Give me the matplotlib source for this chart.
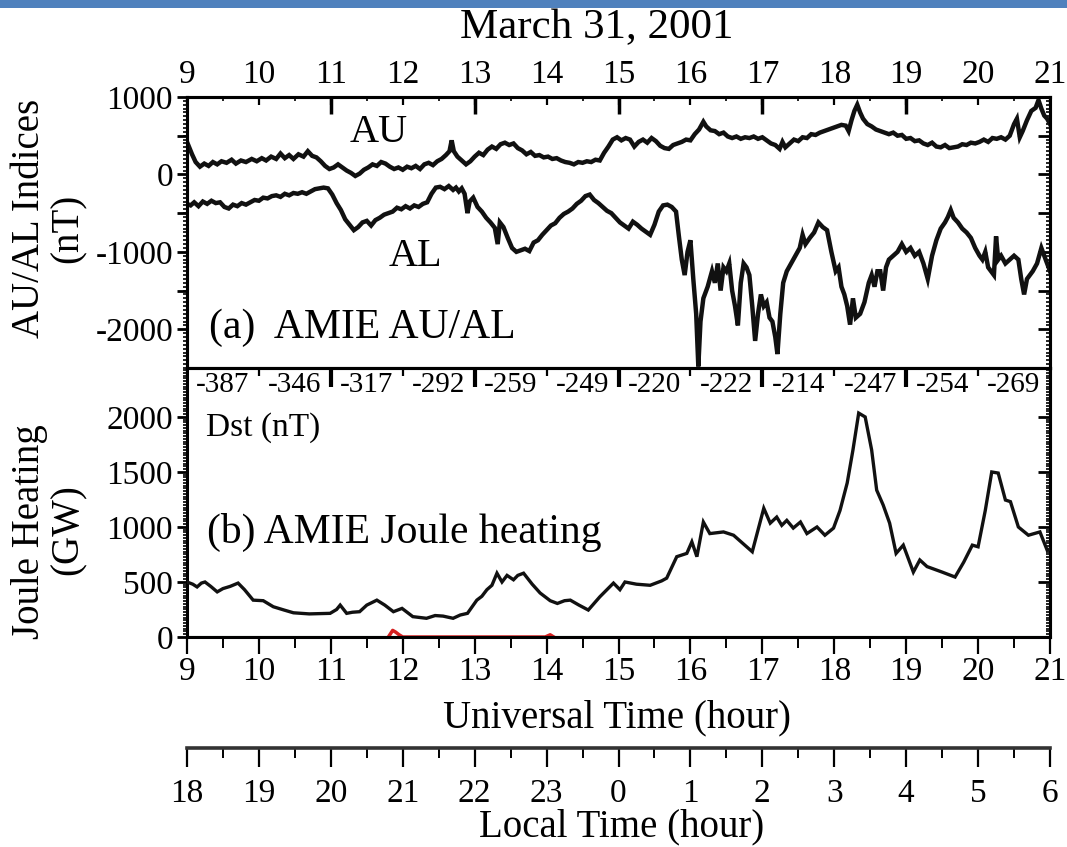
import matplotlib
matplotlib.use("Agg")
import matplotlib.pyplot as plt
from matplotlib.ticker import MultipleLocator
from matplotlib.patches import Rectangle

plt.rcParams['font.family'] = ['Liberation Serif', 'DejaVu Serif']
plt.rcParams['axes.unicode_minus'] = False

# ---------------- data ----------------
au_t = [9.00, 9.03, 9.07, 9.12, 9.18, 9.24, 9.30, 9.36, 9.42, 9.48, 9.55, 9.62, 9.68, 9.75, 9.82, 9.90,
        9.97, 10.04, 10.10, 10.17, 10.24, 10.30, 10.36, 10.42, 10.48, 10.55, 10.62, 10.68, 10.74, 10.80,
        10.86, 10.92, 10.98, 11.04, 11.10, 11.16, 11.22, 11.28, 11.34, 11.40, 11.46, 11.52, 11.58, 11.64,
        11.70, 11.76, 11.82, 11.88, 11.94, 12.00, 12.06, 12.12, 12.18, 12.24, 12.30, 12.36, 12.42, 12.48,
        12.54, 12.60, 12.65, 12.68, 12.71, 12.76, 12.82, 12.88, 12.94, 13.00, 13.06, 13.12, 13.18, 13.24,
        13.30, 13.36, 13.42, 13.48, 13.54, 13.60, 13.66, 13.72, 13.78, 13.84, 13.90, 13.96, 14.02, 14.08,
        14.14, 14.20, 14.26, 14.32, 14.38, 14.44, 14.50, 14.56, 14.62, 14.68, 14.74, 14.80, 14.86, 14.92,
        14.98, 15.04, 15.10, 15.16, 15.22, 15.28, 15.34, 15.40, 15.46, 15.52, 15.58, 15.64, 15.70, 15.76,
        15.82, 15.88, 15.94, 16.00, 16.06, 16.12, 16.18, 16.22, 16.28, 16.34, 16.40, 16.46, 16.52, 16.58,
        16.64, 16.70, 16.76, 16.82, 16.88, 16.94, 17.00, 17.06, 17.12, 17.18, 17.24, 17.28, 17.32, 17.38,
        17.44, 17.50, 17.56, 17.62, 17.68, 17.74, 17.80, 17.86, 17.92, 17.98, 18.04, 18.10, 18.16, 18.20,
        18.24, 18.28, 18.32, 18.36, 18.40, 18.46, 18.52, 18.58, 18.64, 18.70, 18.76, 18.82, 18.88, 18.94,
        19.00, 19.06, 19.12, 19.18, 19.24, 19.30, 19.36, 19.42, 19.48, 19.54, 19.60, 19.66, 19.72, 19.78,
        19.84, 19.90, 19.96, 20.02, 20.08, 20.14, 20.20, 20.26, 20.32, 20.38, 20.44, 20.50, 20.54, 20.58,
        20.62, 20.68, 20.74, 20.80, 20.84, 20.88, 20.92, 20.96, 21.00]
au_v = [420, 350, 260, 160, 100, 140, 110, 160, 130, 170, 150, 190, 140, 180, 160, 200,
        170, 210, 180, 230, 200, 270, 210, 250, 200, 260, 230, 300, 240, 220,
        170, 110, 70, 90, 130, 90, 50, 20, -20, 10, 60, 90, 130, 110,
        160, 140, 100, 70, 90, 60, 100, 80, 110, 70, 130, 150, 120, 170,
        200, 250, 300, 440, 300, 230, 180, 130, 170, 230, 280, 250, 320, 360,
        330, 390, 410, 380, 400, 340, 310, 260, 290, 240, 250, 220, 230, 200,
        210, 180, 160, 150, 130, 160, 150, 170, 160, 190, 180, 280, 360, 450,
        480, 440, 470, 450, 360, 420, 450, 410, 470, 430, 370, 340, 330, 380,
        400, 420, 450, 440, 520, 580, 680, 620, 570, 560, 520, 540, 490, 470,
        490, 460, 480, 470, 490, 460, 480, 440, 400, 380, 330, 420, 350, 400,
        450, 430, 480, 470, 520, 510, 540, 560, 580, 600, 620, 640, 630, 560,
        700, 820, 900, 800, 720, 650, 620, 580, 560, 540, 520, 540, 500, 510,
        460, 470, 430, 440, 400, 380, 410, 360, 350, 380, 340, 350, 360, 390,
        380, 410, 400, 420, 450, 420, 470, 460, 480, 450, 500, 650, 720, 480,
        560, 700, 820, 860, 960, 850, 760, 720, 650]

al_t = [9.00, 9.05, 9.10, 9.16, 9.22, 9.28, 9.34, 9.40, 9.46, 9.52, 9.58, 9.64, 9.70, 9.76, 9.82, 9.88,
        9.94, 10.00, 10.06, 10.12, 10.18, 10.24, 10.30, 10.36, 10.42, 10.48, 10.54, 10.60, 10.66, 10.72,
        10.78, 10.84, 10.90, 10.96, 11.02, 11.08, 11.14, 11.20, 11.26, 11.32, 11.38, 11.44, 11.50, 11.56,
        11.62, 11.68, 11.74, 11.80, 11.86, 11.92, 11.98, 12.04, 12.10, 12.16, 12.22, 12.28, 12.34, 12.40,
        12.46, 12.52, 12.58, 12.64, 12.70, 12.74, 12.78, 12.82, 12.86, 12.90, 12.93, 12.98, 13.04, 13.10,
        13.16, 13.22, 13.28, 13.32, 13.35, 13.40, 13.46, 13.52, 13.58, 13.64, 13.70, 13.76, 13.82, 13.88,
        13.94, 14.00, 14.06, 14.12, 14.18, 14.24, 14.30, 14.36, 14.42, 14.48, 14.54, 14.60, 14.66, 14.72,
        14.78, 14.84, 14.90, 14.96, 15.02, 15.08, 15.14, 15.20, 15.26, 15.32, 15.38, 15.44, 15.50, 15.56,
        15.62, 15.68, 15.74, 15.80, 15.84, 15.88, 15.92, 15.96, 16.00, 16.04, 16.08, 16.11, 16.14, 16.18,
        16.24, 16.30, 16.34, 16.38, 16.42, 16.46, 16.50, 16.54, 16.58, 16.62, 16.66, 16.70, 16.74, 16.78,
        16.82, 16.86, 16.90, 16.94, 16.98, 17.02, 17.06, 17.10, 17.14, 17.18, 17.21, 17.25, 17.29, 17.34,
        17.40, 17.46, 17.52, 17.56, 17.60, 17.66, 17.72, 17.78, 17.84, 17.90, 17.96, 18.02, 18.06, 18.10,
        18.14, 18.18, 18.22, 18.26, 18.30, 18.36, 18.42, 18.48, 18.52, 18.56, 18.60, 18.64, 18.68, 18.72,
        18.76, 18.82, 18.88, 18.94, 19.00, 19.06, 19.12, 19.18, 19.24, 19.30, 19.36, 19.42, 19.48, 19.54,
        19.58, 19.62, 19.66, 19.72, 19.78, 19.84, 19.90, 19.96, 20.02, 20.06, 20.10, 20.14, 20.18, 20.22,
        20.25, 20.28, 20.32, 20.38, 20.44, 20.50, 20.56, 20.60, 20.64, 20.68, 20.72, 20.76, 20.82, 20.88,
        20.94, 21.00]
al_v = [-380, -400, -360, -410, -350, -380, -340, -370, -360, -420, -440, -390, -410, -370, -390, -360,
        -330, -340, -300, -310, -280, -270, -290, -250, -270, -240, -250, -230, -250, -220,
        -190, -180, -170, -180, -260, -370, -460, -580, -650, -720, -680, -620, -600, -660,
        -590, -560, -520, -500, -480, -430, -450, -410, -440, -400, -420, -380, -360, -250,
        -170, -160, -190, -150, -200, -170, -220, -180, -250, -500, -350, -300, -420, -480,
        -560, -620, -690, -900, -620, -680, -820, -950, -1000, -980, -960, -990, -880, -850,
        -780, -720, -660, -630, -560, -510, -480, -440, -380, -340, -280, -260, -330, -370,
        -420, -470, -500, -560, -620, -660, -700, -610, -650, -700, -740, -780, -650, -480,
        -400, -390, -420, -480, -800, -1100, -1300, -1000, -850, -1350, -1800, -2480, -1900, -1600,
        -1450, -1250, -1400, -1150, -1500, -1200, -1250, -1150, -1500, -1700, -1950, -1400, -1150, -1200,
        -1300, -1700, -2150, -1800, -1550, -1700, -1650, -1850, -1900, -2100, -2320, -1800, -1400, -1250,
        -1150, -1050, -950, -780, -900, -820, -750, -620, -680, -720, -1000, -1250, -1200, -1450,
        -1550, -1700, -1940, -1600, -1850, -1800, -1650, -1400, -1300, -1450, -1250, -1250, -1500, -1200,
        -1100, -1050, -1000, -900, -1000, -950, -1050, -1000, -1150, -1350, -1050, -850, -700, -620,
        -550, -460, -560, -620, -700, -750, -820, -950, -1050, -1100, -1000, -1200, -1250, -1300,
        -800, -1100, -1050, -1150, -1100, -1050, -1100, -1350, -1550, -1350, -1300, -1250, -1150, -950,
        -1100, -1250]

jh_t = [9.00, 9.08, 9.14, 9.20, 9.25, 9.33, 9.42, 9.50, 9.60, 9.71, 9.80, 9.92, 10.06, 10.20, 10.35,
        10.48, 10.70, 10.99, 11.08, 11.13, 11.22, 11.30, 11.40, 11.50, 11.64, 11.75, 11.87, 11.99, 12.14,
        12.33, 12.45, 12.56, 12.70, 12.80, 12.90, 13.03, 13.10, 13.17, 13.24, 13.31, 13.38, 13.45, 13.54,
        13.60, 13.68, 13.80, 13.91, 14.05, 14.15, 14.25, 14.33, 14.45, 14.58, 14.74, 14.93, 15.02, 15.09,
        15.25, 15.44, 15.60, 15.67, 15.81, 15.95, 16.02, 16.09, 16.18, 16.27, 16.46, 16.60, 16.86, 17.02,
        17.11, 17.20, 17.27, 17.34, 17.43, 17.53, 17.62, 17.76, 17.87, 17.99, 18.08, 18.18, 18.26, 18.34,
        18.43, 18.52, 18.59, 18.68, 18.77, 18.86, 18.96, 19.10, 19.19, 19.29, 19.50, 19.68, 19.80, 19.92,
        20.00, 20.10, 20.19, 20.28, 20.38, 20.45, 20.56, 20.70, 20.86, 20.96, 21.00]
jh_v = [500, 480, 455, 490, 500, 460, 410, 440, 460, 490, 430, 335, 330, 275, 245,
        220, 210, 215, 250, 290, 215, 225, 230, 290, 335, 290, 230, 260, 185,
        170, 195, 190, 170, 200, 215, 335, 370, 430, 470, 580, 500, 560, 520,
        560, 580, 480, 400, 330, 305, 330, 335, 290, 245, 365, 490, 430, 500,
        480, 470, 510, 535, 730, 760, 865, 730, 1045, 940, 955, 925, 775, 1170,
        1035, 1090, 1015, 1060, 990, 1045, 940, 1000, 925, 990, 1150, 1400, 1700, 2035,
        2000, 1700, 1335, 1200, 1035, 760, 835, 590, 700, 640, 590, 545, 680, 835,
        820, 1150, 1500, 1490, 1245, 1230, 1000, 925, 955, 790, 800]

# small coloured traces near zero at the bottom of panel (b)
red_t = [11.80, 11.86, 11.90, 11.95, 12.00, 13.98, 14.05, 14.10]
red_v = [0, 60, 45, 20, 0, 0, 20, 0]
base_t = [9.0, 21.0]
base_v = [0, 0]

dst_t = [9.5, 10.5, 11.5, 12.5, 13.5, 14.5, 15.5, 16.5, 17.5, 18.5, 19.5, 20.5]
dst_v = [-387, -346, -317, -292, -259, -249, -220, -222, -214, -247, -254, -269]

ut_hours = list(range(9, 22))
lt_labels = ['18', '19', '20', '21', '22', '23', '0', '1', '2', '3', '4', '5', '6']

# ---------------- figure ----------------
W, H = 1067, 847
fig = plt.figure(figsize=(W / 100, H / 100), dpi=100)
fig.patches.append(Rectangle((0, 1 - 8 / H), 1, 8 / H, transform=fig.transFigure,
                             facecolor='#4F81BD', edgecolor='none'))

x0, x1 = 187 / W, 1050 / W
axA = fig.add_axes([x0, 1 - 368 / H, x1 - x0, (368 - 97) / H])
axB = fig.add_axes([x0, 1 - 637 / H, x1 - x0, (637 - 368) / H])

SP = 2.2
TK = 24
for ax in (axA, axB):
    for s in ax.spines.values():
        s.set_linewidth(SP)
    ax.set_xlim(9, 21)

# ---- panel a ----
axA.plot(au_t, au_v, color='#111111', lw=3.2, solid_joinstyle='miter')
axA.plot(al_t, al_v, color='#111111', lw=3.2, solid_joinstyle='miter')
axA.set_ylim(-2500, 1000)
axA.set_yticks([-2000, -1000, 0, 1000])
axA.yaxis.set_minor_locator(MultipleLocator(50))
axA.tick_params(axis='y', which='major', direction='out', length=7, width=2, labelsize=TK,
                left=True, right=False, pad=3)
axA.tick_params(axis='y', which='minor', direction='out', length=3, width=1.2, left=True, right=False)
axAr = axA.secondary_yaxis('right')
axAr.set_yticks([-2000, -1500, -1000, -500, 0, 500, 1000])
axAr.yaxis.set_minor_locator(MultipleLocator(50))
axAr.tick_params(axis='y', which='major', direction='in', length=9, width=2, labelright=False)
axAr.tick_params(axis='y', which='minor', direction='in', length=3, width=1.2)
axAr.spines['right'].set_linewidth(SP)
axAl = axA.secondary_yaxis('left')
axAl.set_yticks([-1500, -500, 500])
axAl.tick_params(axis='y', which='major', direction='out', length=7, width=2, labelleft=False)
axAl.spines['left'].set_linewidth(SP)

axA.xaxis.tick_top()
axA.set_xticks(ut_hours)
axA.set_xticklabels([str(h) for h in ut_hours])
axA.xaxis.set_minor_locator(MultipleLocator(0.5))
axA.tick_params(axis='x', which='major', direction='in', length=6, width=1.6, labelsize=TK, pad=5,
                top=True, bottom=False)
axA.tick_params(axis='x', which='minor', direction='in', length=3, width=1.2, top=True, bottom=False)
axAt = axA.secondary_xaxis('top')
axAt.set_xticks([11, 13, 15, 17, 19])
axAt.tick_params(axis='x', direction='in', length=12, width=2.5, labeltop=False)
axAt.spines['top'].set_linewidth(SP)

axA.text(11.66, 0.87, 'AU', transform=axA.get_xaxis_transform(), fontsize=29, ha='center', va='center')
axA.text(12.17, 0.41, 'AL', transform=axA.get_xaxis_transform(), fontsize=29, ha='center', va='center')
axA.text(9.3, 0.15, '(a)  AMIE AU/AL', transform=axA.get_xaxis_transform(), fontsize=30,
         ha='left', va='center')

# ---- panel b ----
axB.plot(base_t, base_v, color='#1e5a1e', lw=1.5, zorder=1)
axB.plot(red_t, red_v, color='#d62020', lw=2.5, zorder=1)
axB.plot(jh_t, jh_v, color='#111111', lw=2.4, solid_joinstyle='miter', zorder=3)
axB.set_ylim(0, 2445)
axB.set_yticks([0, 500, 1000, 1500, 2000])
axB.yaxis.set_minor_locator(MultipleLocator(25))
axB.tick_params(axis='y', which='major', direction='out', length=7, width=2, labelsize=TK,
                left=True, right=False, pad=3)
axB.tick_params(axis='y', which='minor', direction='out', length=3, width=1.2, left=True, right=False)
axBr = axB.secondary_yaxis('right')
axBr.set_yticks([0, 500, 1000, 1500, 2000])
axBr.yaxis.set_minor_locator(MultipleLocator(25))
axBr.tick_params(axis='y', which='major', direction='in', length=9, width=2, labelright=False)
axBr.tick_params(axis='y', which='minor', direction='in', length=3, width=1.2)
axBr.spines['right'].set_linewidth(SP)

axB.set_xticks(ut_hours)
axB.set_xticklabels([str(h) for h in ut_hours])
axB.xaxis.set_minor_locator(MultipleLocator(0.5))
axB.tick_params(axis='x', which='major', direction='out', length=12, width=1.6, labelsize=TK, pad=2,
                top=True, bottom=True)
axB.tick_params(axis='x', which='minor', direction='out', length=8, width=1.4, top=False, bottom=True)
axBt = axB.secondary_xaxis('top')
axBt.set_xticks([11, 13, 15, 17, 19])
axBt.tick_params(axis='x', direction='in', length=14, width=3, labeltop=False)
axBt.spines['top'].set_linewidth(SP)
for t in axB.xaxis.get_major_ticks():
    t.tick2line.set_markersize(6)
    t.tick2line.set_marker(3)

for t, v in zip(dst_t, dst_v):
    axB.text(t, 0.937, str(v), transform=axB.get_xaxis_transform(), fontsize=21,
             ha='center', va='center')
axB.text(9.27, 0.78, 'Dst (nT)', transform=axB.get_xaxis_transform(), fontsize=24,
         ha='left', va='center')
axB.text(9.28, 0.387, '(b) AMIE Joule heating', transform=axB.get_xaxis_transform(), fontsize=30,
         ha='left', va='center')

# ---- local time axis ----
axL = fig.add_axes([x0, 1 - 748 / H, x1 - x0, 0.0001])
axL.set_xlim(9, 21)
axL.set_yticks([])
for k in ('top', 'left', 'right'):
    axL.spines[k].set_visible(False)
axL.spines['bottom'].set_linewidth(2.6)
axL.spines['bottom'].set_color('#333333')
axL.set_xticks(ut_hours)
axL.set_xticklabels(lt_labels)
axL.xaxis.set_minor_locator(MultipleLocator(0.5))
axL.tick_params(axis='x', which='major', direction='out', length=14, width=1.6, labelsize=TK, pad=8)
axL.tick_params(axis='x', which='minor', direction='out', length=7, width=1.4)
axL.patch.set_visible(False)

# ---- labels ----
fig.text(597 / W, 1 - 28 / H, 'March 31, 2001', fontsize=31, ha='center', va='center')
fig.text(617 / W, 1 - 718 / H, 'Universal Time (hour)', fontsize=28, ha='center', va='center')
fig.text(622 / W, 1 - 827 / H, 'Local Time (hour)', fontsize=28, ha='center', va='center')
fig.text(30 / W, 1 - 218 / H, 'AU/AL Indices', fontsize=28, rotation=90, ha='center', va='center')
fig.text(68 / W, 1 - 228 / H, '(nT)', fontsize=28, rotation=90, ha='center', va='center')
fig.text(30 / W, 1 - 532 / H, 'Joule Heating', fontsize=28, rotation=90, ha='center', va='center')
fig.text(68 / W, 1 - 530 / H, '(GW)', fontsize=28, rotation=90, ha='center', va='center')

fig.savefig('out.png', dpi=100)
